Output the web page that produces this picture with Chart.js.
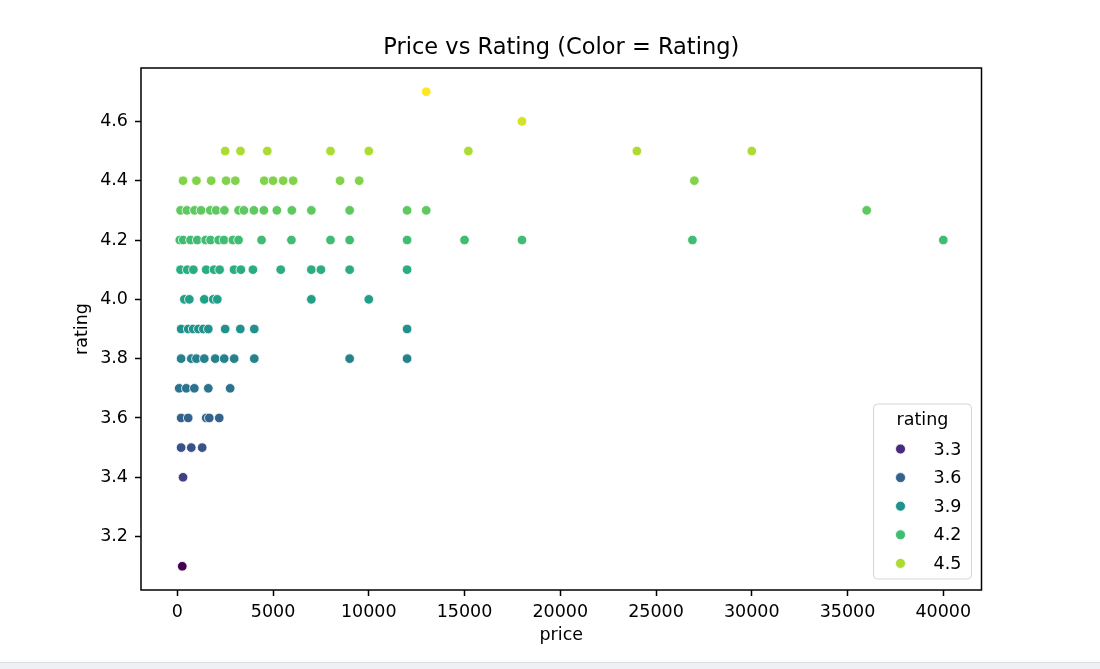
<!DOCTYPE html>
<html><head><meta charset="utf-8">
<script src="https://cdn.jsdelivr.net/npm/chart.js@4.4.1/dist/chart.umd.min.js"></script>
<style>
html,body{margin:0;padding:0;background:#fff;}
#wrap{position:relative;width:1100px;height:662px;}
#strip{width:1100px;height:6px;background:#eef0f3;border-top:1px solid #dcdfe4;}
</style></head><body>
<div id="wrap"><canvas id="c" width="1100" height="662"></canvas></div>
<div id="strip"></div>
<script>
// ---- data (price per rating level) ----
const ratingLevels = [3.1, 3.4, 3.5, 3.6, 3.7, 3.8, 3.9, 4.0, 4.1, 4.2, 4.3, 4.4, 4.5, 4.6, 4.7];
const prices_3_1 = [260];
const prices_3_4 = [300];
const prices_3_5 = [200, 730, 1300];
const prices_3_6 = [200, 570, 1510, 1670, 2190];
const prices_3_7 = [100, 470, 890, 1620, 2760];
const prices_3_8 = [200, 730, 1000, 1410, 1980, 2450, 2970, 4020, 9000, 12000];
const prices_3_9 = [200, 570, 830, 1100, 1360, 1620, 2500, 3290, 4020, 12000];
const prices_4_0 = [370, 630, 1410, 1880, 2090, 7000, 10000];
const prices_4_1 = [170, 520, 840, 1510, 1920, 2210, 2960, 3320, 3950, 5400, 7000, 7500, 9000, 12000];
const prices_4_2 = [130, 310, 690, 1040, 1480, 1740, 2160, 2440, 2900, 3200, 4400, 5960, 8000, 9000, 12000, 15000, 18000, 26900, 40000];
const prices_4_3 = [170, 500, 900, 1240, 1720, 2030, 2460, 3200, 3480, 4000, 4520, 5200, 5980, 7000, 9000, 12000, 13000, 36000];
const prices_4_4 = [300, 1000, 1770, 2550, 3030, 4540, 5000, 5530, 6050, 8500, 9500, 27000];
const prices_4_5 = [2500, 3300, 4700, 8000, 10000, 15200, 24000, 30000];
const prices_4_6 = [18000];
const prices_4_7 = [13000];
const priceLists = [prices_3_1, prices_3_4, prices_3_5, prices_3_6, prices_3_7, prices_3_8, prices_3_9,
  prices_4_0, prices_4_1, prices_4_2, prices_4_3, prices_4_4, prices_4_5, prices_4_6, prices_4_7];
const xTicks = [0, 5000, 10000, 15000, 20000, 25000, 30000, 35000, 40000];
const yTicks = [3.2, 3.4, 3.6, 3.8, 4.0, 4.2, 4.4, 4.6];
const legendValues = [3.3, 3.6, 3.9, 4.2, 4.5];

// ---- build points ----
const points = [];
ratingLevels.forEach((r, i) => priceLists[i].forEach(p => points.push({x: p, y: r})));

const allX = points.map(p => p.x), allY = points.map(p => p.y);
const xMinD = Math.min(...allX), xMaxD = Math.max(...allX);
const yMinD = Math.min(...allY), yMaxD = Math.max(...allY);
const xm = (xMaxD - xMinD) * 0.05, ym = (yMaxD - yMinD) * 0.05;

const VIRIDIS = ['#440154','#482475','#414487','#355f8d','#2a788e','#21918c','#22a884','#44bf70','#7ad151','#bddf26','#fde725'];
function hex2rgb(h){return [parseInt(h.substr(1,2),16),parseInt(h.substr(3,2),16),parseInt(h.substr(5,2),16)];}
function viridis(t){
  t = Math.max(0, Math.min(1, t));
  const f = t * (VIRIDIS.length - 1);
  const i = Math.min(Math.floor(f), VIRIDIS.length - 2);
  const u = f - i;
  const a = hex2rgb(VIRIDIS[i]), b = hex2rgb(VIRIDIS[i+1]);
  const c = a.map((v, k) => Math.round(v + (b[k] - v) * u));
  return 'rgb(' + c.join(',') + ')';
}
function colorFor(r){ return viridis((r - yMinD) / (yMaxD - yMinD)); }

const FONT = 'DejaVu Sans';
const TICK_SIZE = 17.5;

const framePlugin = {
  id: 'frame',
  afterDatasetsDraw(chart) {
    const {ctx, chartArea: a} = chart;
    ctx.save();
    ctx.strokeStyle = '#000';
    ctx.lineWidth = 1.5;
    ctx.strokeRect(a.left, a.top, a.right - a.left, a.bottom - a.top);
    ctx.restore();
  }
};

const legendPlugin = {
  id: 'ratingLegend',
  afterDraw(chart) {
    const {ctx, chartArea: a} = chart;
    const w = 98, h = 175;
    const x0 = a.right - 10 - w, y0 = a.bottom - 11 - h;
    ctx.save();
    ctx.beginPath();
    if (ctx.roundRect) ctx.roundRect(x0, y0, w, h, 4); else ctx.rect(x0, y0, w, h);
    ctx.fillStyle = 'rgba(255,255,255,0.8)';
    ctx.fill();
    ctx.strokeStyle = 'rgba(204,204,204,0.8)';
    ctx.lineWidth = 1;
    ctx.stroke();
    ctx.fillStyle = '#000';
    ctx.font = TICK_SIZE + 'px "' + FONT + '"';
    ctx.textBaseline = 'middle';
    ctx.textAlign = 'center';
    ctx.fillText('rating', x0 + w / 2, y0 + 16);
    ctx.textAlign = 'left';
    legendValues.forEach((v, i) => {
      const cy = y0 + 45 + i * 28.6;
      ctx.beginPath();
      ctx.arc(x0 + 27, cy, 5, 0, Math.PI * 2);
      ctx.fillStyle = colorFor(v);
      ctx.fill();
      ctx.strokeStyle = '#fff';
      ctx.lineWidth = 0.8;
      ctx.stroke();
      ctx.fillStyle = '#000';
      ctx.fillText(v.toFixed(1), x0 + 60, cy + 1);
    });
    ctx.restore();
  }
};

new Chart(document.getElementById('c'), {
  type: 'scatter',
  data: {
    datasets: [{
      label: 'rating',
      data: points,
      pointRadius: 4.8,
      pointHoverRadius: 4.8,
      borderWidth: 0.8,
      borderColor: '#ffffff',
      backgroundColor: (c) => (c.raw ? colorFor(c.raw.y) : '#21918c')
    }]
  },
  options: {
    responsive: false,
    animation: false,
    layout: {padding: {left: 0, right: 118.5, top: 0, bottom: 0}},
    plugins: {
      legend: {display: false},
      tooltip: {enabled: false},
      title: {
        display: true,
        fullSize: false,
        text: 'Price vs Rating (Color = Rating)',
        color: '#000',
        font: {family: FONT, size: 22.5, weight: 'normal', lineHeight: 1.2},
        padding: {top: 34.5, bottom: 6.5}
      }
    },
    scales: {
      x: {
        type: 'linear',
        min: xMinD - xm,
        max: xMaxD + xm,
        afterBuildTicks: (s) => { s.ticks = xTicks.map(v => ({value: v})); },
        afterFit: (s) => { s.height = 72; },
        border: {display: false},
        grid: {display: true, drawOnChartArea: false, drawTicks: true, tickLength: 6, tickWidth: 1.5, color: '#000'},
        ticks: {color: '#000', font: {family: FONT, size: TICK_SIZE}, padding: 6, maxRotation: 0, autoSkip: false,
          callback: (v) => String(v)},
        title: {display: true, text: 'price', color: '#000', font: {family: FONT, size: TICK_SIZE, lineHeight: 1.2},
          padding: {top: 0, bottom: 16.5}}
      },
      y: {
        type: 'linear',
        min: yMinD - ym,
        max: yMaxD + ym,
        afterBuildTicks: (s) => { s.ticks = yTicks.map(v => ({value: v})); },
        afterFit: (s) => { s.width = 141; },
        border: {display: false},
        grid: {display: true, drawOnChartArea: false, drawTicks: true, tickLength: 6, tickWidth: 1.5, color: '#000'},
        ticks: {color: '#000', font: {family: FONT, size: TICK_SIZE}, padding: 7, autoSkip: false,
          callback: (v) => Number(v).toFixed(1)},
        title: {display: true, text: 'rating', color: '#000', font: {family: FONT, size: TICK_SIZE, lineHeight: 1.2},
          padding: {top: 71.5, bottom: 0}}
      }
    }
  },
  plugins: [framePlugin, legendPlugin]
});
</script>
</body></html>
